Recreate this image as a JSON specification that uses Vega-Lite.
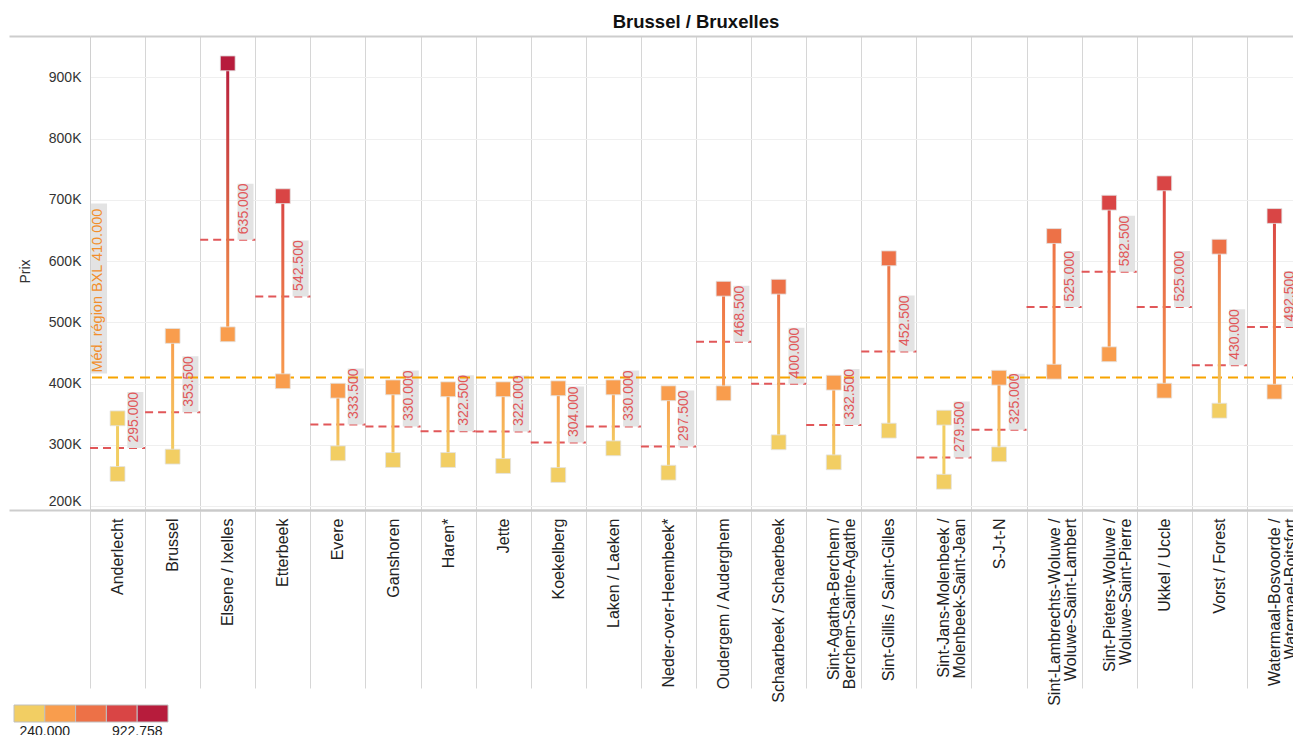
{
  "$schema": "https://vega.github.io/schema/vega-lite/v6.json",
  "autosize": {"type": "none"},
  "padding": {"left": 90, "top": 36, "right": -9, "bottom": 225},
  "width": 1212,
  "height": 474,
  "background": "white",
  "title": {
    "text": "Brussel / Bruxelles",
    "anchor": "middle",
    "fontSize": 18.5,
    "fontWeight": "bold",
    "color": "#111111",
    "offset": -2
  },
  "config": {
    "font": "Liberation Sans",
    "locale": {"number": {"decimal": ",", "thousands": ".", "grouping": [3], "currency": ["", " €"]}},
    "view": {"stroke": null}
  },
  "datasets": {
    "communes": [
      {"commune": "Anderlecht", "min": 252700, "max": 343500, "median": 295000},
      {"commune": "Brussel", "min": 281000, "max": 478000, "median": 353500},
      {"commune": "Elsene / Ixelles", "min": 480600, "max": 922758, "median": 635000},
      {"commune": "Etterbeek", "min": 404000, "max": 706000, "median": 542500},
      {"commune": "Evere", "min": 286400, "max": 388600, "median": 333500},
      {"commune": "Ganshoren", "min": 275500, "max": 394000, "median": 330000},
      {"commune": "Haren*", "min": 275500, "max": 390900, "median": 322500},
      {"commune": "Jette", "min": 265700, "max": 390900, "median": 322000},
      {"commune": "Koekelberg", "min": 251000, "max": 392500, "median": 304000},
      {"commune": "Laken / Laeken", "min": 294600, "max": 394000, "median": 330000},
      {"commune": "Neder-over-Heembeek*", "min": 254800, "max": 384400, "median": 297500},
      {"commune": "Oudergem / Auderghem", "min": 384400, "max": 555000, "median": 468500},
      {"commune": "Schaarbeek / Schaerbeek", "min": 304400, "max": 558300, "median": 400000},
      {"commune": "Sint-Agatha-Berchem /\nBerchem-Sainte-Agathe", "min": 271700, "max": 401700, "median": 332500},
      {"commune": "Sint-Gillis / Saint-Gilles", "min": 323400, "max": 604600, "median": 452500},
      {"commune": "Sint-Jans-Molenbeek /\nMolenbeek-Saint-Jean", "min": 240000, "max": 344600, "median": 279500},
      {"commune": "S-J-t-N", "min": 284800, "max": 409800, "median": 325000},
      {"commune": "Sint-Lambrechts-Woluwe /\nWoluwe-Saint-Lambert", "min": 419600, "max": 641000, "median": 525000},
      {"commune": "Sint-Pieters-Woluwe /\nWoluwe-Saint-Pierre", "min": 448000, "max": 695400, "median": 582500},
      {"commune": "Ukkel / Uccle", "min": 388600, "max": 727000, "median": 525000},
      {"commune": "Vorst / Forest", "min": 356000, "max": 623600, "median": 430000},
      {"commune": "Watermaal-Bosvoorde /\nWatermael-Boitsfort", "min": 387000, "max": 673700, "median": 492500}
    ],
    "region": [{"name": "Méd. région BXL", "median": 410000}]
  },
  "data": {"name": "communes"},
  "layer": [
    {
      "mark": {"type": "rule", "color": "#E15759", "strokeWidth": 2, "strokeDash": [8, 5], "xOffset": -27.55, "x2Offset": 27.55},
      "encoding": {
        "x": {
          "field": "commune", "type": "nominal", "sort": null,
          "scale": {"paddingInner": 0, "paddingOuter": 0},
          "axis": {
            "title": null, "orient": "bottom", "tickBand": "extent", "grid": true,
            "gridColor": "#d6d6d6", "gridWidth": 1,
            "ticks": true, "tickSize": 178, "tickColor": "#d6d6d6", "tickWidth": 1,
            "domain": true, "domainColor": "#cacaca", "domainWidth": 2,
            "labelAngle": 270, "labelAlign": "right", "labelBaseline": "middle", "labelPadding": -170,
            "labelFontSize": 16, "labelColor": "#222222", "labelLimit": 0, "labelLineHeight": 16,
            "labelExpr": "split(datum.label, '\\n')", "labelOverlap": false, "labelBound": false, "labelFlush": false
          }
        },
        "x2": {"field": "commune"},
        "y": {
          "field": "median", "type": "quantitative",
          "scale": {"domain": [193900, 967400], "nice": false, "zero": false},
          "axis": {
            "title": "Prix", "titleX": -64.5, "titleY": 235, "titleAngle": 270, "titleAlign": "center", "titleBaseline": "middle",
            "titleFontSize": 14, "titleFontWeight": "normal", "titleColor": "#333333",
            "values": [193900, 200000, 300000, 400000, 500000, 600000, 700000, 800000, 900000, 967400],
            "labelExpr": "datum.value < 195000 || datum.value > 960000 ? '' : (datum.value / 1000) + 'K'",
            "labelFontSize": 14, "labelColor": "#333333", "labelPadding": -72,
            "labelOffset": {"condition": {"test": "datum.value == 200000", "value": -5}, "value": 0},
            "ticks": true, "tickSize": 81, "tickWidth": 2,
            "tickColor": {"condition": {"test": "datum.value < 195000 || datum.value > 960000", "value": "#cdcdcd"}, "value": "rgba(0,0,0,0)"},
            "grid": true,
            "gridColor": {"condition": {"test": "datum.value < 195000 || datum.value > 960000", "value": "#cdcdcd"}, "value": "#efefef"},
            "gridWidth": {"condition": {"test": "datum.value < 195000 || datum.value > 960000", "value": 2}, "value": 1},
            "domain": true, "domainColor": "#d0d0d0", "domainWidth": 1,
            "labelOverlap": false, "labelFlush": false, "labelBound": false
          }
        }
      }
    },
    {
      "data": {"name": "region"},
      "mark": {"type": "tick", "size": 16, "thickness": 170, "color": "#e3e3e3", "opacity": 1, "xOffset": -18.5, "yOffset": -89},
      "encoding": {
        "x": {"datum": "Anderlecht", "type": "nominal"},
        "y": {"field": "median", "type": "quantitative"}
      }
    },
    {
      "mark": {"type": "tick", "size": 16, "thickness": 56, "color": "#e3e3e3", "opacity": 1, "xOffset": 17.8, "yOffset": -28},
      "encoding": {
        "x": {"field": "commune", "type": "nominal", "sort": null},
        "y": {"field": "median", "type": "quantitative"}
      }
    },
    {
      "data": {"name": "region"},
      "mark": {"type": "rule", "color": "#F7A400", "strokeWidth": 2, "strokeDash": [10, 6]},
      "encoding": {
        "y": {"field": "median", "type": "quantitative"}
      }
    },
    {
      "transform": [{"filter": "datum.max < 376552"}],
      "mark": {"type": "bar", "size": 3, "color": "#F2CE63"},
      "encoding": {
        "x": {"field": "commune", "type": "nominal", "sort": null},
        "y": {"field": "min", "type": "quantitative"},
        "y2": {"field": "max"}
      }
    },
    {
      "transform": [{"filter": "datum.min < 376552 && datum.max >= 376552 && datum.max < 513103"}],
      "mark": {"type": "bar", "size": 3, "color": {"gradient": "linear", "x1": 0, "y1": 1, "x2": 0, "y2": 0, "stops": [{"offset": 0, "color": "#F2CE63"}, {"offset": 1, "color": "#F99D4D"}]}},
      "encoding": {
        "x": {"field": "commune", "type": "nominal", "sort": null},
        "y": {"field": "min", "type": "quantitative"},
        "y2": {"field": "max"}
      }
    },
    {
      "transform": [{"filter": "datum.min < 376552 && datum.max >= 513103 && datum.max < 649655"}],
      "mark": {"type": "bar", "size": 3, "color": {"gradient": "linear", "x1": 0, "y1": 1, "x2": 0, "y2": 0, "stops": [{"offset": 0, "color": "#F2CE63"}, {"offset": 1, "color": "#ED7147"}]}},
      "encoding": {
        "x": {"field": "commune", "type": "nominal", "sort": null},
        "y": {"field": "min", "type": "quantitative"},
        "y2": {"field": "max"}
      }
    },
    {
      "transform": [{"filter": "datum.min >= 376552 && datum.max >= 513103 && datum.max < 649655"}],
      "mark": {"type": "bar", "size": 3, "color": {"gradient": "linear", "x1": 0, "y1": 1, "x2": 0, "y2": 0, "stops": [{"offset": 0, "color": "#F99D4D"}, {"offset": 1, "color": "#ED7147"}]}},
      "encoding": {
        "x": {"field": "commune", "type": "nominal", "sort": null},
        "y": {"field": "min", "type": "quantitative"},
        "y2": {"field": "max"}
      }
    },
    {
      "transform": [{"filter": "datum.min >= 376552 && datum.max >= 649655 && datum.max < 786206"}],
      "mark": {"type": "bar", "size": 3, "color": {"gradient": "linear", "x1": 0, "y1": 1, "x2": 0, "y2": 0, "stops": [{"offset": 0, "color": "#F99D4D"}, {"offset": 1, "color": "#D94545"}]}},
      "encoding": {
        "x": {"field": "commune", "type": "nominal", "sort": null},
        "y": {"field": "min", "type": "quantitative"},
        "y2": {"field": "max"}
      }
    },
    {
      "transform": [{"filter": "datum.min >= 376552 && datum.max >= 786206"}],
      "mark": {"type": "bar", "size": 3, "color": {"gradient": "linear", "x1": 0, "y1": 1, "x2": 0, "y2": 0, "stops": [{"offset": 0, "color": "#F99D4D"}, {"offset": 1, "color": "#B71C3C"}]}},
      "encoding": {
        "x": {"field": "commune", "type": "nominal", "sort": null},
        "y": {"field": "min", "type": "quantitative"},
        "y2": {"field": "max"}
      }
    },
    {
      "transform": [{"fold": ["min", "max"], "as": ["bound", "prix"]}],
      "mark": {"type": "point", "shape": "square", "filled": true, "size": 220, "opacity": 1, "stroke": "#e2e2e2", "strokeWidth": 1, "strokeOpacity": 0.8},
      "encoding": {
        "x": {"field": "commune", "type": "nominal", "sort": null},
        "y": {"field": "prix", "type": "quantitative"},
        "color": {
          "field": "prix", "type": "quantitative",
          "scale": {"type": "quantize", "domain": [240000, 922758], "nice": false, "zero": false, "range": ["#F2CE63", "#F99D4D", "#ED7147", "#D94545", "#B71C3C"]},
          "legend": {
            "type": "gradient", "orient": "none", "legendX": -76, "legendY": 669, "direction": "horizontal", "title": null,
            "gradientLength": 154, "gradientThickness": 17, "gradientStrokeColor": "#c0c0c0", "gradientStrokeWidth": 1,
            "labelOverlap": false, "labelFlush": false, "format": ",.0f",
            "labelFontSize": 14, "labelColor": "#222222", "labelOffset": 3, "padding": 0,
            "labelExpr": "datum.value > 370000 && datum.value < 380000 ? format(domain('color')[0], ',.0f') + '\u00a0\u00a0\u00a0' : datum.value > 780000 && datum.value < 790000 ? '\u00a0\u00a0\u00a0' + format(domain('color')[1], ',.0f') : ''"
          }
        }
      }
    },
    {
      "mark": {"type": "text", "angle": 270, "align": "left", "baseline": "middle", "fontSize": 14, "color": "#E15759", "xOffset": 16, "yOffset": -5.5},
      "encoding": {
        "x": {"field": "commune", "type": "nominal", "sort": null},
        "y": {"field": "median", "type": "quantitative"},
        "text": {"field": "median", "type": "quantitative", "format": ",.0f"}
      }
    },
    {
      "data": {"name": "region"},
      "transform": [{"calculate": "datum.name + ' ' + format(datum.median, ',.0f')", "as": "label"}],
      "mark": {"type": "text", "angle": 270, "align": "left", "baseline": "middle", "fontSize": 14.5, "color": "#F28E2B", "xOffset": -19.5, "yOffset": -5},
      "encoding": {
        "x": {"datum": "Anderlecht", "type": "nominal"},
        "y": {"field": "median", "type": "quantitative"},
        "text": {"field": "label", "type": "nominal"}
      }
    }
  ]
}
